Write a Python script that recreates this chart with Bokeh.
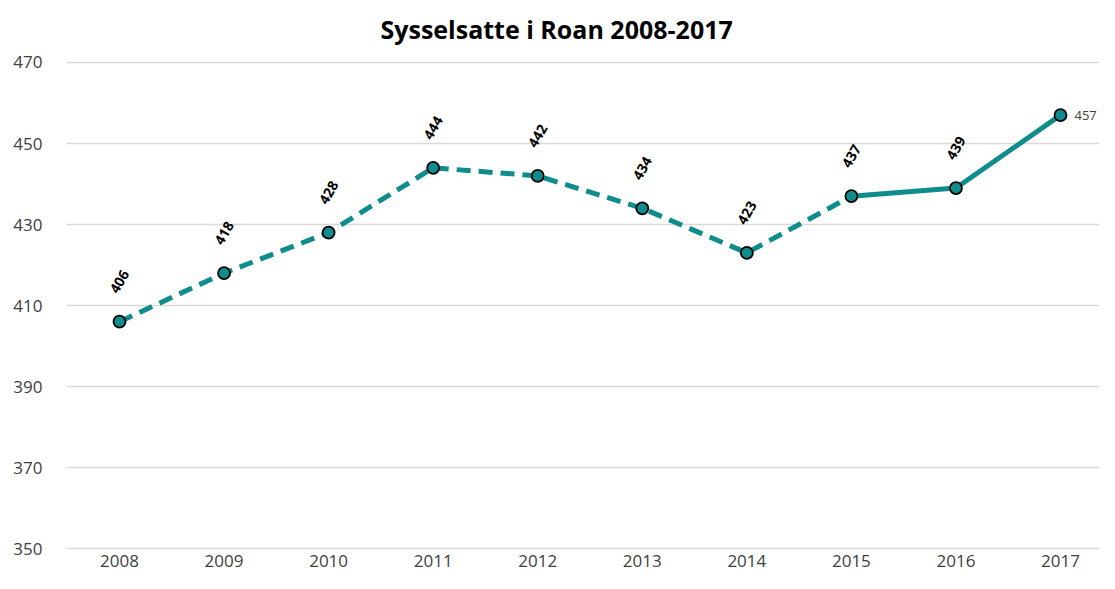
from bokeh.plotting import figure
from bokeh.models import ColumnDataSource, Range1d, FixedTicker
from bokeh.core.properties import value
from bokeh.embed import file_html
from bokeh.resources import INLINE

years = [2008, 2009, 2010, 2011, 2012, 2013, 2014, 2015, 2016, 2017]
employed = [406, 418, 428, 444, 442, 434, 423, 437, 439, 457]
y_ticks = [350, 370, 390, 410, 430, 450, 470]
title_text = "Sysselsatte i Roan 2008-2017"

TEAL = "#0f8c8c"
FONT = "Open Sans"

p = figure(width=1099, height=573, output_backend="svg", toolbar_location=None,
           x_range=Range1d(2007.493, 2017.373), y_range=Range1d(349.51, 471.975),
           min_border_left=66, min_border_right=0, min_border_top=54, min_border_bottom=23)

p.title.text = title_text
p.title.align = "left"
p.title.offset = 314
p.title.standoff = 18
p.title.text_font = FONT
p.title.text_font_size = "25px"
p.title.text_font_style = "bold"
p.title.text_color = "#000000"

p.outline_line_color = None
p.xgrid.grid_line_color = None
p.ygrid.ticker = FixedTicker(ticks=y_ticks)
p.ygrid.grid_line_color = "#d9d9d9"
p.ygrid.grid_line_width = 1.5

p.yaxis.ticker = FixedTicker(ticks=y_ticks)
p.xaxis.ticker = FixedTicker(ticks=years)
for ax in (p.xaxis[0], p.yaxis[0]):
    ax.axis_line_color = None
    ax.major_tick_line_color = None
    ax.minor_tick_line_color = None
    ax.major_tick_out = 0
    ax.major_tick_in = 0
    ax.minor_tick_out = 0
    ax.minor_tick_in = 0
    ax.major_label_text_font = FONT
    ax.major_label_text_font_size = "17px"
    ax.major_label_text_color = "#404040"
p.yaxis.major_label_standoff = 24
p.xaxis.major_label_standoff = 4

dash_src = ColumnDataSource(dict(x=years[:8], y=employed[:8]))
solid_src = ColumnDataSource(dict(x=years[7:], y=employed[7:]))
p.line("x", "y", source=dash_src, line_color=TEAL, line_width=5, line_dash="14 8")
p.line("x", "y", source=solid_src, line_color=TEAL, line_width=5)

pts = ColumnDataSource(dict(x=years, y=employed))
p.scatter("x", "y", source=pts, size=12, fill_color=TEAL, line_color="#000000", line_width=1.8)

rot_src = ColumnDataSource(dict(x=years[:-1], y=employed[:-1], lab=[str(v) for v in employed[:-1]]))
p.text("x", "y", text="lab", source=rot_src, angle=1.05, y_offset=-40,
       text_align="center", text_baseline="middle", text_font=value(FONT),
       text_font_size="14px", text_font_style="bold", text_color="#000000")
last_src = ColumnDataSource(dict(x=years[-1:], y=employed[-1:], lab=[str(employed[-1])]))
p.text("x", "y", text="lab", source=last_src, x_offset=14,
       text_align="left", text_baseline="middle", text_font=value(FONT),
       text_font_size="13px", text_color="#404040")

open("out.html", "w").write(file_html(p, INLINE))
